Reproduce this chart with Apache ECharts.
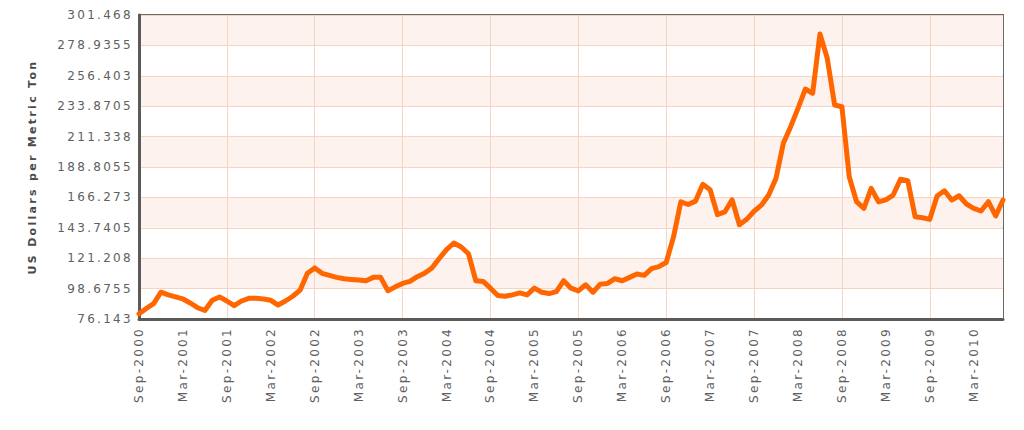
<!DOCTYPE html>
<html>
<head>
<meta charset="utf-8">
<script src="https://cdn.jsdelivr.net/npm/echarts@6/dist/echarts.min.js"></script>
<style>
  html, body { margin: 0; padding: 0; background: #ffffff; }
  #chart { width: 1024px; height: 430px; letter-spacing: 2.3px; }
</style>
</head>
<body>
<div id="chart"></div>
<script>
// ---- data ----
const monthNames = ['Jan','Feb','Mar','Apr','May','Jun','Jul','Aug','Sep','Oct','Nov','Dec'];
const startMonthIndex = 8;   // Sep
const startYear = 2000;
const monthCount = 119;      // Sep-2000 .. Jul-2010

const yTickLabels = ['76.143','98.6755','121.208','143.7405','166.273','188.8055',
                     '211.338','233.8705','256.403','278.9355','301.468'];

const prices = [
  80, 84, 87.5, 96, 94, 92.5, 91, 88, 84.5, 82.5, 90, 92.5,
  89.5, 86, 89.5, 91.5, 91.5, 91, 90, 86.5, 89.5, 93, 97.5, 110,
  114, 110, 108.5, 107, 106, 105.5, 105, 104.5, 107, 107, 97, 100,
  102.5, 104, 107.5, 110, 114, 121, 127.5, 132.5, 129.5, 124.5, 104.5, 104,
  99, 93.5, 93, 94, 95.5, 94, 99, 96, 95, 96.5, 104.5, 99,
  97, 101.5, 96, 102, 102.5, 106, 104.5, 107, 109.5, 108.5, 113.5, 115,
  118, 137, 163, 161, 163.5, 176, 172, 153.5, 155.5, 164.5, 146, 150,
  156, 160.5, 168, 180.4, 206.4, 218.7, 232.3, 246.6, 243.4, 287.4, 269.4, 234.8,
  233.5, 181.6, 163.1, 158.2, 173, 163, 164.5, 168, 179.7, 178.6, 152, 151.2,
  150, 167.3, 171.2, 164.3, 167.5, 161.4, 158.2, 156.2, 163.1, 152.5, 164.3
];

const yTitle = 'US Dollars per Metric Ton';

// ---- build categories ----
const categories = [];
for (let i = 0; i < monthCount; i++) {
  const m = (startMonthIndex + i) % 12;
  const y = startYear + Math.floor((startMonthIndex + i) / 12);
  categories.push(monthNames[m] + '-' + y);
}

const yMin = Number(yTickLabels[0]);
const yMax = Number(yTickLabels[yTickLabels.length - 1]);
const yStep = (yMax - yMin) / (yTickLabels.length - 1);

const chart = echarts.init(document.getElementById('chart'), null, { renderer: 'svg' });

const labelFont = 'DejaVu Sans, Verdana, sans-serif';

chart.setOption({
  animation: false,
  backgroundColor: '#ffffff',
  grid: {
    left: 139, right: 21, top: 15, bottom: 111,
    show: true,
    borderColor: '#6a6a6a',
    borderWidth: 2,
    backgroundColor: 'transparent'
  },
  xAxis: {
    type: 'category',
    data: categories,
    boundaryGap: false,
    axisLine: { show: true, lineStyle: { color: '#5a5a5a', width: 3 } },
    axisTick: { show: false },
    axisLabel: {
      interval: 5,
      rotate: 90,
      margin: 8,
      color: '#606060',
      fontSize: 12,
      fontFamily: labelFont
    },
    splitLine: {
      show: true,
      interval: function (idx) { return idx % 12 === 0; },
      lineStyle: { color: '#f6d4c2', width: 1 }
    }
  },
  yAxis: {
    type: 'value',
    min: yMin,
    max: yMax,
    interval: yStep,
    name: yTitle,
    nameLocation: 'middle',
    nameRotate: 90,
    nameGap: 101,
    nameTextStyle: {
      color: '#4a4a4a',
      fontSize: 11,
      fontWeight: 'bold',
      fontFamily: labelFont
    },
    axisLine: { show: true, lineStyle: { color: '#5a5a5a', width: 3 } },
    axisTick: { show: false },
    axisLabel: {
      margin: 6,
      color: '#606060',
      fontSize: 12,
      fontFamily: labelFont,
      formatter: function (v) {
        let best = yTickLabels[0], bd = Infinity;
        for (const s of yTickLabels) {
          const d = Math.abs(Number(s) - v);
          if (d < bd) { bd = d; best = s; }
        }
        return best;
      }
    },
    splitLine: { show: true, lineStyle: { color: '#f6d4c2', width: 1 } },
    splitArea: { show: true, areaStyle: { color: ['#ffffff', '#fdf2ed'] } }
  },
  series: [{
    type: 'line',
    data: prices,
    showSymbol: false,
    symbol: 'none',
    smooth: false,
    lineStyle: { color: '#ff6600', width: 5, join: 'round', cap: 'round' },
    itemStyle: { color: '#ff6600' }
  }]
});
</script>
</body>
</html>
